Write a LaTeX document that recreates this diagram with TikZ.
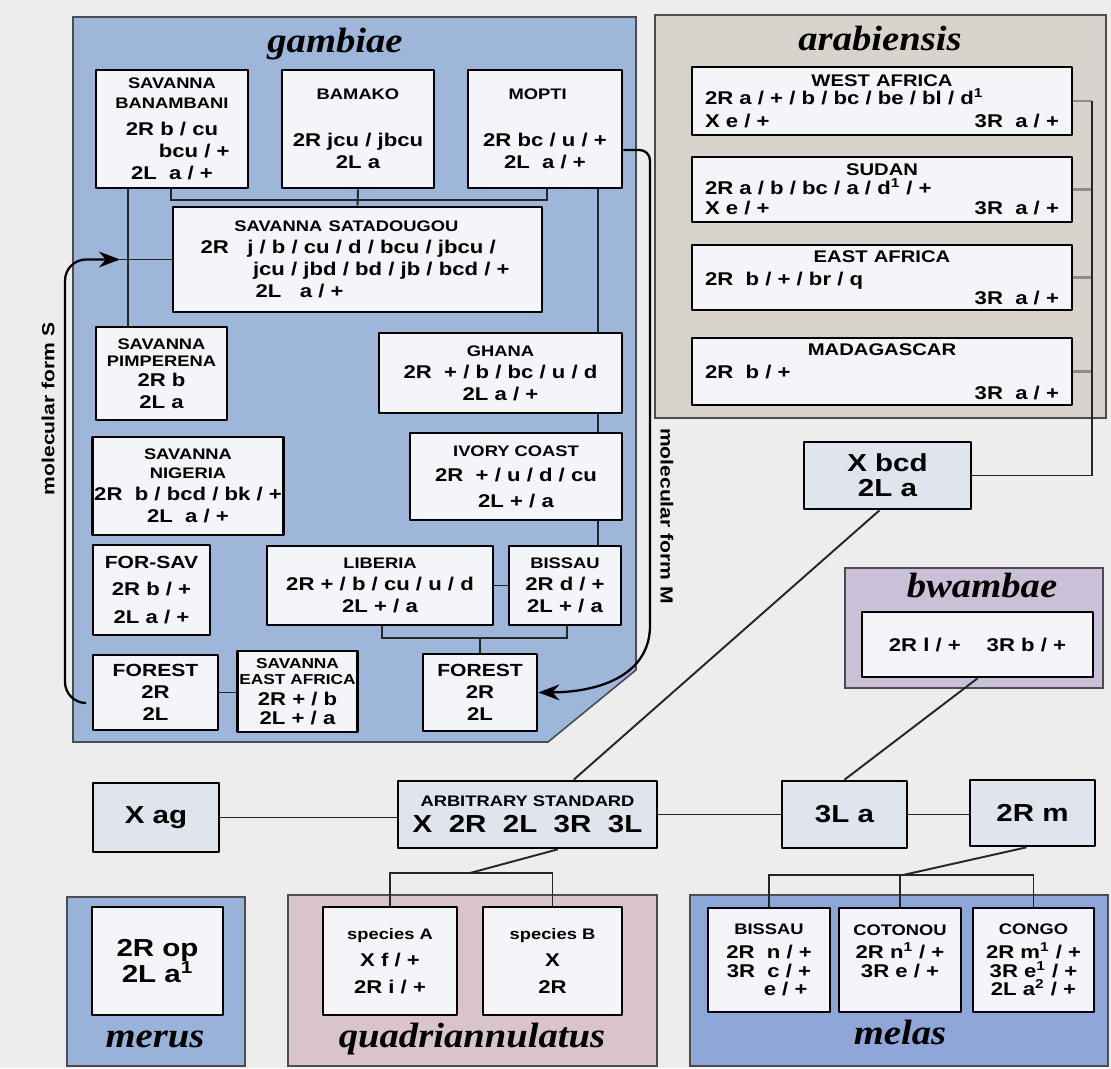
\documentclass[tikz,border=0pt]{standalone}
\usepackage{fontspec}
\setmainfont[FakeStretch=1.2]{Liberation Sans}
\newfontfamily\ttlfont[FakeStretch=1.1]{Liberation Serif}
\usetikzlibrary{arrows.meta}
\definecolor{bgc}{RGB}{237,237,237}
\definecolor{gamb}{RGB}{157,182,218}
\definecolor{arab}{RGB}{216,211,205}
\definecolor{bwam}{RGB}{202,193,216}
\definecolor{meru}{RGB}{152,178,218}
\definecolor{quad}{RGB}{216,196,201}
\definecolor{mela}{RGB}{143,166,216}
\definecolor{cellc}{RGB}{244,245,248}
\definecolor{stdc}{RGB}{224,228,236}
\newcommand\hd[1]{{\fontsize{8.7}{10}\selectfont #1}}
\newcommand\hda[1]{{\fontsize{9.6}{11}\selectfont #1}}
\newcommand\hdb[1]{{\fontsize{10}{12}\selectfont #1}}
\newcommand\hds[1]{{\fontsize{8.2}{10}\selectfont #1}}
\newcommand\ctr[1]{\mbox{}\hfill#1\hfill\mbox{}}
\newcommand\rgt[1]{\mbox{}\hfill#1\hspace*{0.38cm}}
\pgfdeclarelayer{back}
\pgfdeclarelayer{mid}
\pgfsetlayers{back,mid,main}
\tikzset{
  cell/.style={draw, line width=1.5pt, fill=cellc, inner sep=1pt, align=center,
    font=\fontsize{10.5}{12.5}\selectfont\bfseries},
  big/.style={cell, fill=stdc, font=\fontsize{14}{17}\selectfont\bfseries},
  sz/.style 2 args={minimum width=#1*0.02cm, minimum height=#2*0.02cm},
  abox/.style={align=left, text width=7.08cm, inner xsep=0.26cm, inner ysep=1pt},
  panel/.style={draw=black!70, line width=0.9pt},
  link/.style={line width=1.1pt, black!85},
  stub/.style={line width=1.6pt, black!45},
  arr/.style={line width=1.3pt, -{Stealth[length=12pt,width=9pt]}},
  ttl/.style={font=\ttlfont\bfseries\itshape\fontsize{20}{24}\selectfont, anchor=base, inner sep=0pt},
  lab/.style={font=\fontsize{10}{12}\selectfont\bfseries, inner sep=0pt}
}
\begin{document}
\begin{tikzpicture}[x=0.02cm, y=-0.02cm, line join=round, line cap=round]
\useasboundingbox (0,0) rectangle (1111,1068);
\begin{pgfonlayer}{back}
\fill[bgc] (0,0) rectangle (1111,1068);
\filldraw[panel, fill=gamb] (73,17) -- (636,17) -- (636,670) -- (548,742) -- (73,742) -- cycle;
\filldraw[panel, fill=arab] (655,15) rectangle (1106,418);
\filldraw[panel, fill=bwam] (845,568) rectangle (1103,688);
\filldraw[panel, fill=meru] (67,897) rectangle (245,1066);
\filldraw[panel, fill=quad] (288,895) rectangle (657,1066);
\filldraw[panel, fill=mela] (690,895) rectangle (1108,1066);
\end{pgfonlayer}

\node[ttl] (tgam) at (335,53) {gambiae};
\node[ttl] (tara) at (880,51) {arabiensis};
\node[ttl] (tbwa) at (982,597) {bwambae};
\node[ttl] (tmer) at (155,1047) {merus};
\node[ttl] (tqua) at (472,1047) {quadriannulatus};
\node[ttl] (tmel) at (900,1044) {melas};

\node[cell, sz={152}{118}] (ban) at (172,129) {\hd{SAVANNA}\\[-1pt]\hd{BANAMBANI}\\[3pt] 2R b / cu\\ \hspace*{2.4em}bcu / +\\ 2L\ \ a / +};
\node[cell, sz={152}{118}] (bam) at (358,129) {\hd{BAMAKO}\\[14pt] 2R jcu / jbcu\\ 2L a};
\node[cell, sz={154}{118}] (mop) at (545,129) {\hd{MOPTI}\hspace*{0.8em}\\[14pt] 2R bc / u / +\\ 2L\ \ a / +};
\node[cell, sz={369}{105}, align=left, text width=6.28cm, inner xsep=0.55cm] (sat) at (357.5,259.5)
  {\ctr{\hd{SAVANNA SATADOUGOU}\hspace*{1.2em}}\\ 2R\ \ \ j / b / cu / d / bcu / jbcu /\\ \hspace*{1.05cm}jcu / jbd / bd / jb / bcd / +\\ \hspace*{1.1cm}2L\ \ \ a / +};
\node[cell, sz={131}{93}] (pim) at (161.5,373.5) {\hd{SAVANNA}\\[-3pt]\hd{PIMPERENA}\\[-1pt] 2R b\\ 2L a};
\node[cell, sz={243}{80}] (gha) at (500.5,373) {\hd{GHANA}\\ 2R\ \ + / b / bc / u / d\\ 2L a / +};
\node[cell, sz={190}{98}] (nig) at (188,486) {\hd{SAVANNA}\\[-2pt]\hd{NIGERIA}\\ 2R\ \ b / bcd / bk / +\\ 2L\ \ a / +};
\node[cell, sz={212}{87}] (ivo) at (516,476.5) {\hd{IVORY COAST}\\[2pt] 2R\ \ + / u / d / cu\\[2pt] 2L + / a};
\node[cell, sz={117}{90}] (fsv) at (151.5,590) {\hdb{FOR-SAV}\\[3pt] 2R b / +\\[3pt] 2L a / +};
\node[cell, sz={226}{79}] (lib) at (380,585.5) {\hd{LIBERIA}\\ 2R + / b / cu / u / d\\ 2L + / a};
\node[cell, sz={112}{79}] (bis) at (565,585.5) {\hd{BISSAU}\\ 2R d / +\\ 2L + / a};
\node[cell, sz={125}{75}] (forL) at (155.5,692.5) {\hdb{FOREST}\\ 2R\\ 2L};
\node[cell, sz={119}{81}] (sea) at (297.5,691.5) {\hds{SAVANNA}\\[-3.5pt]\hds{EAST AFRICA}\\[-0.5pt] 2R + / b\\[-2pt] 2L + / a};
\node[cell, sz={114}{77}] (forR) at (480,692.5) {\hdb{FOREST}\\ 2R\\ 2L};

\node[cell, sz={380}{68}, abox] (wa) at (882,101) {\ctr{\hda{WEST AFRICA}}\\[-2pt] 2R a / + / b / bc / be / bl / d\textsuperscript{1}\\[0.5pt] X e / +\hfill 3R\ \ a / +\hspace*{0.38cm}};
\node[cell, sz={380}{65}, abox] (su) at (882,189.5) {\ctr{\hda{SUDAN}}\\[-2pt] 2R a / b / bc / a / d\textsuperscript{1} / +\\[-1pt] X e / +\hfill 3R\ \ a / +\hspace*{0.38cm}};
\node[cell, sz={380}{65}, abox] (ea) at (882,277.5) {\ctr{\hda{EAST AFRICA}}\\[1pt] 2R\ \ b / + / br / q\\[-2pt] \rgt{3R\ \ a / +}};
\node[cell, sz={380}{67}, abox] (md) at (882,371.5) {\ctr{\hda{MADAGASCAR}}\\[1pt] 2R\ \ b / +\\[-1pt] \rgt{3R\ \ a / +}};

\node[big, sz={167}{67}] (xbcd) at (887.5,475.5) {X bcd\\[-3pt] 2L a};
\node[cell, sz={231}{65}] (bwin) at (977.5,644.5) {2R l / +\hspace{1.4em}3R b / +};
\node[big, sz={126}{69}] (xag) at (156,817.5) {X ag};
\node[big, sz={259}{67}] (arb) at (527.5,814.5) {\hd{ARBITRARY STANDARD}\\[-2pt] X\ \ 2R\ \ 2L\ \ 3R\ \ 3L};
\node[big, sz={125}{67}] (tla) at (844.5,814.5) {3L a};
\node[big, sz={125}{66}] (trm) at (1032.5,813) {2R m};

\node[big, fill=cellc, sz={131}{108}] (mrin) at (157.5,961) {2R op\\[-2pt] 2L a\textsuperscript{1}};
\node[cell, sz={134}{108}] (spA) at (390,961) {\hd{species A}\\[3pt] X f / +\\[3pt] 2R i / +};
\node[cell, sz={139}{108}] (spB) at (552.5,961) {\hd{species B}\\[3pt] X\\[3pt] 2R};
\node[cell, sz={122}{104}] (mBis) at (769,960) {\hd{BISSAU}\\[1pt] 2R\ \ n / +\\[-2pt] 3R\ \ c / +\\[-2pt] \hspace*{1.8em}e / +};
\node[cell, sz={122}{104}] (mCot) at (900,960) {\hd{COTONOU}\\[1pt] 2R n\textsuperscript{1} / +\\[-2pt] 3R e / +\\[-2pt] ~};
\node[cell, sz={121}{104}] (mCon) at (1033.5,960) {\hd{CONGO}\\[1pt] 2R m\textsuperscript{1} / +\\[-2pt] 3R e\textsuperscript{1} / +\\[-2pt] 2L a\textsuperscript{2} / +};

\node[lab, rotate=90] (mfS) at (48,409) {molecular form S};
\node[lab, rotate=-90] (mfM) at (667,516) {molecular form M};

\begin{pgfonlayer}{mid}
\path (128,0) coordinate (tl) (598,0) coordinate (tr)
  (171,200) coordinate (j1) (547,200) coordinate (j2)
  (382,638) coordinate (j3) (567,638) coordinate (j4)
  (84,703) coordinate (sS) (65,0) coordinate (sV) (120,0) coordinate (sT)
  (650,0) coordinate (mV) (1092,0) coordinate (aV)
  (470,873) coordinate (qj) (903,875) coordinate (mj);
\draw[link] (ban.south -| tl) -- (pim.north -| tl);
\draw[link] (ban.south -| j1) -- (j1) -- (j2) -- (mop.south -| j2);
\draw[link] (bam.south) -- (sat.north);
\draw[link] (mop.south -| tr) -- (bis.north -| tr);
\draw[link] (sT |- sat.west) -- (sat.west);
\draw[link] (lib.east) -- (bis.west);
\draw[link] (lib.south -| j3) -- (j3) -- (j4) -- (bis.south -| j4);
\draw[link] (forR.north) -- (forR.north |- j3);
\draw[link] (forL.east) -- (forL.east -| sea.west);
\draw[arr, rounded corners=12pt] (sS) -| (sV |- sat.west) -- (sT |- sat.west);
\draw[arr, rounded corners=6pt] (mop.-15) -- (mop.-15 -| mV) -- (mV |- 0,615)
  .. controls (650,672) and (605,692) .. (forR.east);
\foreach \b in {wa,su,ea,md}
  \draw[stub] (\b.east) -- (\b.east -| aV);
\draw[link] (wa.east -| aV) -- (aV |- xbcd.east) -- (xbcd.east);
\draw[link] (xbcd.257) -- (arb.37);
\draw[link] (bwin.south) -- (tla.north);
\draw[link] (xag.east) -- (xag.east -| arb.west);
\draw[link] (arb.east) -- (tla.west);
\draw[link] (tla.east) -- (tla.east -| trm.west);
\draw[link] (arb.-49) -- (qj);
\draw[link] (spA.north) -- (spA.north |- qj) -- (spB.north |- qj) -- (spB.north);
\draw[link] (trm.-100) -- (mj);
\draw[link] (mBis.north) -- (mBis.north |- mj) -- (mCon.north |- mj) -- (mCon.north);
\draw[link] (mCot.north) -- (mCot.north |- mj);
\end{pgfonlayer}
\end{tikzpicture}
\end{document}
